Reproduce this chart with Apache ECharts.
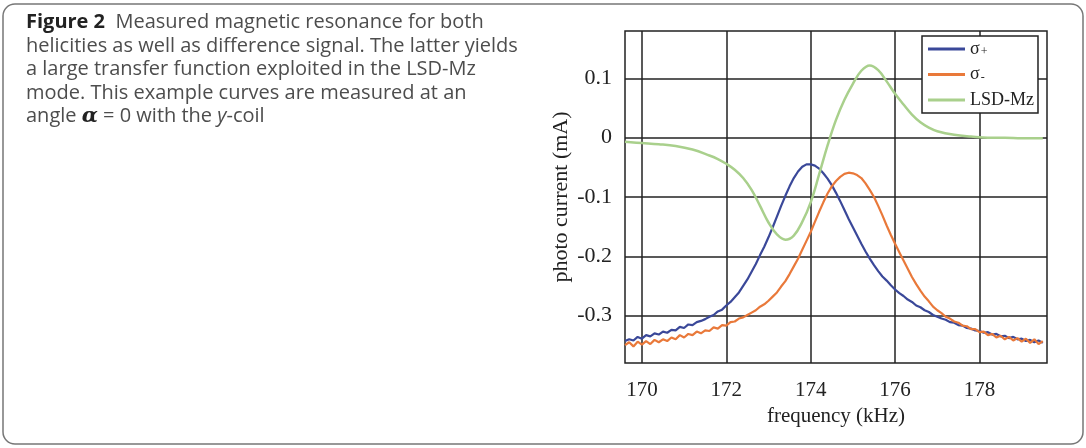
<!DOCTYPE html>
<html>
<head>
<meta charset="utf-8">
<script src="https://cdn.jsdelivr.net/npm/echarts@6.0.0/dist/echarts.min.js"></script>
<style>
  html, body { margin: 0; padding: 0; background: #fff; }
  #main { width: 1086px; height: 448px; }
</style>
</head>
<body>
<div id="main"></div>
<script>
// frequency grid of the two measured curves (kHz)
var freqFine = [
  169.6, 169.7, 169.8, 169.9, 170.0, 170.1, 170.2, 170.3, 170.4, 170.5,
  170.6, 170.7, 170.8, 170.9, 171.0, 171.1, 171.2, 171.3, 171.4, 171.5,
  171.6, 171.7, 171.8, 171.9, 172.0, 172.1, 172.2, 172.3, 172.4, 172.5,
  172.6, 172.7, 172.8, 172.9, 173.0, 173.1, 173.2, 173.3, 173.4, 173.5,
  173.6, 173.7, 173.8, 173.9, 174.0, 174.1, 174.2, 174.3, 174.4, 174.5,
  174.6, 174.7, 174.8, 174.9, 175.0, 175.1, 175.2, 175.3, 175.4, 175.5,
  175.6, 175.7, 175.8, 175.9, 176.0, 176.1, 176.2, 176.3, 176.4, 176.5,
  176.6, 176.7, 176.8, 176.9, 177.0, 177.1, 177.2, 177.3, 177.4, 177.5,
  177.6, 177.7, 177.8, 177.9, 178.0, 178.1, 178.2, 178.3, 178.4, 178.5,
  178.6, 178.7, 178.8, 178.9, 179.0, 179.1, 179.2, 179.3, 179.4, 179.5
];
// sigma+ photo current (mA)
var sigmaPlus = [
  -0.343, -0.340, -0.342, -0.336, -0.339, -0.333, -0.335, -0.330, -0.332, -0.327,
  -0.329, -0.324, -0.325, -0.319, -0.321, -0.315, -0.316, -0.311, -0.309, -0.306,
  -0.302, -0.299, -0.293, -0.290, -0.283, -0.277, -0.269, -0.261, -0.250, -0.239,
  -0.226, -0.213, -0.198, -0.184, -0.168, -0.151, -0.133, -0.115, -0.098, -0.082,
  -0.068, -0.057, -0.049, -0.045, -0.045, -0.047, -0.052, -0.060, -0.069, -0.080,
  -0.093, -0.107, -0.122, -0.137, -0.151, -0.165, -0.179, -0.192, -0.204, -0.215,
  -0.225, -0.234, -0.241, -0.249, -0.256, -0.262, -0.267, -0.273, -0.277, -0.283,
  -0.286, -0.291, -0.294, -0.299, -0.302, -0.305, -0.307, -0.311, -0.312, -0.316,
  -0.317, -0.321, -0.322, -0.325, -0.326, -0.329, -0.328, -0.332, -0.331, -0.335,
  -0.334, -0.338, -0.336, -0.340, -0.339, -0.343, -0.341, -0.345, -0.342, -0.346
];
// sigma- photo current (mA)
var sigmaMinus = [
  -0.350, -0.345, -0.352, -0.344, -0.349, -0.343, -0.348, -0.341, -0.345, -0.340,
  -0.343, -0.337, -0.340, -0.333, -0.337, -0.331, -0.333, -0.327, -0.330, -0.325,
  -0.326, -0.320, -0.322, -0.316, -0.317, -0.311, -0.310, -0.305, -0.303, -0.299,
  -0.295, -0.291, -0.285, -0.281, -0.275, -0.268, -0.261, -0.251, -0.242, -0.230,
  -0.217, -0.204, -0.189, -0.174, -0.159, -0.142, -0.125, -0.109, -0.094, -0.082,
  -0.073, -0.066, -0.061, -0.059, -0.060, -0.063, -0.068, -0.077, -0.088, -0.100,
  -0.115, -0.131, -0.148, -0.164, -0.179, -0.193, -0.207, -0.221, -0.235, -0.247,
  -0.258, -0.268, -0.276, -0.285, -0.291, -0.296, -0.302, -0.305, -0.310, -0.312,
  -0.317, -0.318, -0.323, -0.323, -0.328, -0.327, -0.333, -0.331, -0.337, -0.334,
  -0.340, -0.336, -0.342, -0.338, -0.344, -0.339, -0.346, -0.340, -0.348, -0.343
];
// difference signal
var freqLsd = [
  169.6, 170.0, 170.4, 170.8, 171.2, 171.6, 171.8, 172.0, 172.2, 172.4,
  172.6, 172.8, 173.0, 173.2, 173.4, 173.6, 173.8, 174.0, 174.2, 174.4,
  174.6, 174.8, 175.0, 175.2, 175.4, 175.6, 175.8, 176.0, 176.2, 176.4,
  176.6, 176.8, 177.0, 177.4, 177.8, 178.2, 178.6, 179.0, 179.5
];
var lsdMz = [
  -0.007, -0.009, -0.011, -0.014, -0.020, -0.030, -0.036, -0.044, -0.054, -0.068,
  -0.088, -0.115, -0.143, -0.163, -0.172, -0.165, -0.142, -0.109, -0.062, -0.013,
  0.030, 0.064, 0.091, 0.113, 0.122, 0.114, 0.095, 0.074, 0.056, 0.039,
  0.026, 0.017, 0.011, 0.005, 0.002, 0.000, 0.000, -0.001, -0.001
];
var xTicks = [170, 172, 174, 176, 178];
var yTicks = [-0.3, -0.2, -0.1, 0, 0.1];

var captionLines = [
  'Measured magnetic resonance for both',
  'helicities as well as difference signal. The latter yields',
  'a large transfer function exploited in the LSD-Mz',
  'mode. This example curves are measured at an'
];

function pairs(xs, ys) {
  return xs.map(function (x, i) { return [x, ys[i]]; });
}

// fit caption font size to the width of the second line
var ctx = document.createElement('canvas').getContext('2d');
ctx.font = '100px "Open Sans"';
var capSize = Math.round(100 * 491 / ctx.measureText(captionLines[1]).width * 10) / 10;

var serif = '"Liberation Serif", "Times New Roman", serif';
var gridColor = '#222';

var chart = echarts.init(document.getElementById('main'), null, { renderer: 'canvas' });
chart.setOption({
  backgroundColor: '#fff',
  animation: false,
  graphic: [
    {
      type: 'rect',
      shape: { x: 3, y: 4, width: 1080, height: 440, r: 12 },
      style: { fill: 'none', stroke: '#777', lineWidth: 1.5 },
      silent: true
    },
    {
      type: 'text',
      left: 26,
      top: 11,
      style: {
        text: '{b|Figure 2}  ' + captionLines[0] + '\n' +
          captionLines[1] + '\n' + captionLines[2] + '\n' + captionLines[3] + '\n' +
          'angle {m|α} = 0 with the {i|y}-coil',
        font: capSize + 'px "Open Sans"',
        fill: '#4d4d4d',
        lineHeight: 23.5,
        rich: {
          b: { fontWeight: 'bold', fill: '#222', fontSize: capSize, fontFamily: 'Open Sans', lineHeight: 23.5 },
          m: { fontWeight: 'bold', fontStyle: 'italic', fill: '#222', fontSize: capSize + 1, fontFamily: 'DejaVu Serif', lineHeight: 23.5 },
          i: { fontStyle: 'italic', fill: '#4d4d4d', fontSize: capSize, fontFamily: 'Open Sans', lineHeight: 23.5 }
        }
      }
    }
  ],
  grid: {
    left: 625, top: 31, width: 422, height: 332,
    show: true, borderColor: gridColor, borderWidth: 1.5,
    containLabel: false
  },
  legend: {
    orient: 'vertical',
    left: 922, top: 36,
    padding: [4, 4, 4, 6],
    itemGap: 7.5,
    itemWidth: 37, itemHeight: 3,
    icon: 'rect',
    backgroundColor: '#fff',
    borderColor: gridColor, borderWidth: 1.5,
    borderRadius: 0,
    textStyle: { fontFamily: serif, fontSize: 18, color: '#222', lineHeight: 18,
      rich: {
        s: { fontFamily: serif, fontSize: 18, color: '#222', lineHeight: 18 },
        sub: { fontFamily: serif, fontSize: 12, color: '#222', lineHeight: 12, padding: [6, 0, 0, 1] }
      }
    },
    formatter: function (name) {
      if (name === 'σ+') return '{s|σ}{sub|+}';
      if (name === 'σ-') return '{s|σ}{sub|-}';
      return name;
    },
    data: ['σ+', 'σ-', 'LSD-Mz']
  },
  xAxis: {
    type: 'value',
    min: 169.6, max: 179.6,
    name: 'frequency (kHz)',
    nameLocation: 'middle',
    nameGap: 42,
    nameTextStyle: { fontFamily: serif, fontSize: 21, color: '#222' },
    axisLine: { show: false },
    axisTick: { show: false, customValues: xTicks },
    axisLabel: { customValues: xTicks, margin: 17, fontFamily: serif, fontSize: 21, color: '#222' },
    splitLine: { show: true, lineStyle: { color: gridColor, width: 1.5 } }
  },
  yAxis: {
    type: 'value',
    min: -0.38, max: 0.18,
    name: 'photo current (mA)',
    nameLocation: 'middle',
    nameGap: 53,
    nameTextStyle: { fontFamily: serif, fontSize: 22, color: '#222' },
    axisLine: { show: false },
    axisTick: { show: false, customValues: yTicks },
    axisLabel: {
      customValues: yTicks, margin: 13, fontFamily: serif, fontSize: 22, color: '#222',
      formatter: function (v) { return String(Math.round(v * 10) / 10); }
    },
    splitLine: { show: true, lineStyle: { color: gridColor, width: 1.5 } }
  },
  series: [
    {
      name: 'σ+', type: 'line', symbol: 'none', showSymbol: false,
      data: pairs(freqFine, sigmaPlus),
      lineStyle: { color: '#3a4899', width: 2.2 }, itemStyle: { color: '#3a4899' }
    },
    {
      name: 'σ-', type: 'line', symbol: 'none', showSymbol: false,
      data: pairs(freqFine, sigmaMinus),
      lineStyle: { color: '#e9793a', width: 2.2 }, itemStyle: { color: '#e9793a' }
    },
    {
      name: 'LSD-Mz', type: 'line', symbol: 'none', showSymbol: false, smooth: 0.4,
      data: pairs(freqLsd, lsdMz),
      lineStyle: { color: '#a9d08c', width: 2.5 }, itemStyle: { color: '#a9d08c' }
    }
  ]
});
</script>
</body>
</html>
